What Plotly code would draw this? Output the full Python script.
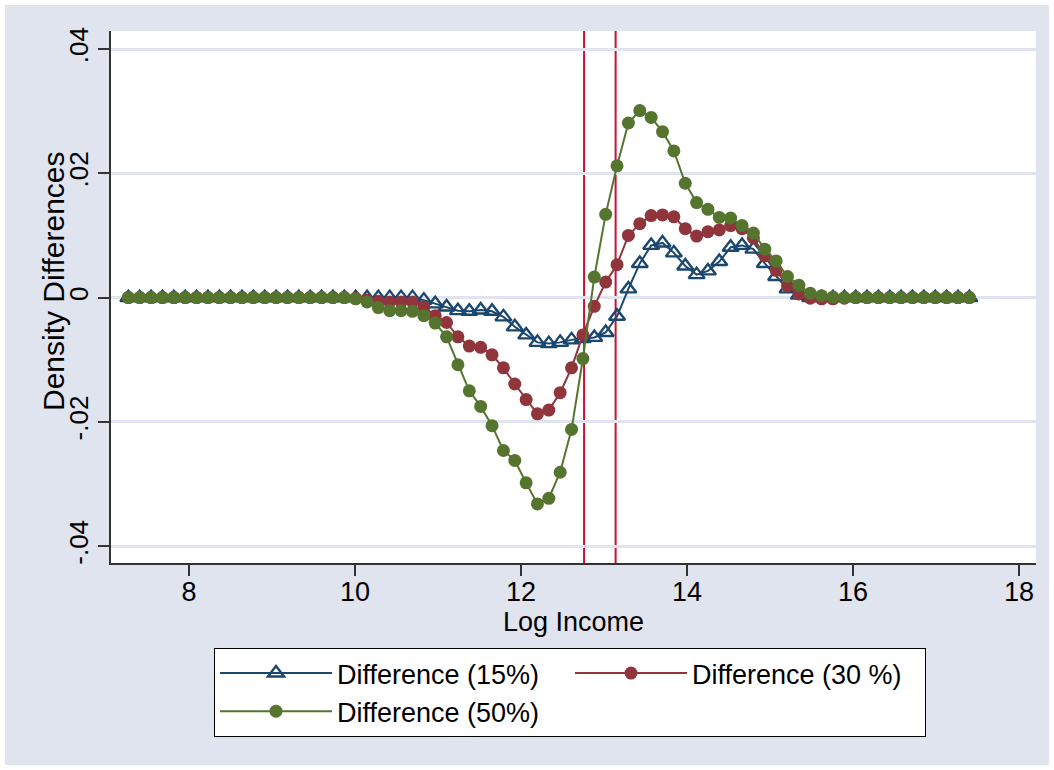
import plotly.graph_objects as go

# ---------------- data ----------------
log_income = [7.269, 7.406, 7.543, 7.680, 7.817, 7.954, 8.091, 8.228, 8.365, 8.501,
              8.638, 8.775, 8.912, 9.049, 9.186, 9.323, 9.460, 9.597, 9.734, 9.871,
              10.008, 10.145, 10.281, 10.418, 10.555, 10.692, 10.829, 10.966, 11.103, 11.240,
              11.377, 11.514, 11.651, 11.788, 11.925, 12.062, 12.198, 12.335, 12.472, 12.609,
              12.746, 12.883, 13.020, 13.157, 13.294, 13.431, 13.568, 13.705, 13.842, 13.979,
              14.116, 14.252, 14.389, 14.526, 14.663, 14.800, 14.937, 15.074, 15.211, 15.348,
              15.485, 15.622, 15.759, 15.896, 16.033, 16.169, 16.306, 16.443, 16.580, 16.717,
              16.854, 16.991, 17.128, 17.265, 17.402]

diff_15 = [0, 0, 0, 0, 0, 0, 0, 0, 0, 0,
           0, 0, 0, 0, 0, 0, 0, 0, 0, 0,
           0, 0, 0, 0, 0, 0, -0.0004, -0.0010, -0.0015, -0.0021,
           -0.0022, -0.0020, -0.0022, -0.0031, -0.0047, -0.0060, -0.0072, -0.0074, -0.0072, -0.0068,
           -0.0066, -0.0064, -0.0056, -0.0030, 0.0014, 0.0055, 0.0084, 0.0088, 0.0072, 0.0051,
           0.0037, 0.0043, 0.0058, 0.0081, 0.0084, 0.0078, 0.0055, 0.0034, 0.0014, 0.0004,
           0, 0, 0, 0, 0, 0, 0, 0, 0, 0,
           0, 0, 0, 0, 0]

diff_30 = [0, 0, 0, 0, 0, 0, 0, 0, 0, 0,
           0, 0, 0, 0, 0, 0, 0, 0, 0, 0,
           -0.0001, -0.0004, -0.0006, -0.0007, -0.0007, -0.0007, -0.0015, -0.0029, -0.0040, -0.0063,
           -0.0078, -0.0080, -0.0092, -0.0113, -0.0139, -0.0164, -0.0187, -0.0181, -0.0153, -0.0113,
           -0.0060, -0.0014, 0.0025, 0.0053, 0.0100, 0.0119, 0.0132, 0.0133, 0.0130, 0.0111,
           0.0099, 0.0106, 0.0109, 0.0116, 0.0111, 0.0096, 0.0067, 0.0044, 0.0019, 0.0006,
           -0.0001, -0.0002, -0.0002, -0.0001, 0, 0, 0, 0, 0, 0,
           0, 0, 0, 0, 0]

diff_50 = [0, 0, 0, 0, 0, 0, 0, 0, 0, 0,
           0, 0, 0, 0, 0, 0, 0, 0, 0, 0,
           -0.0002, -0.0007, -0.0016, -0.0021, -0.0021, -0.0022, -0.0029, -0.0041, -0.0063, -0.0108,
           -0.0150, -0.0175, -0.0206, -0.0246, -0.0262, -0.0298, -0.0332, -0.0323, -0.0281, -0.0212,
           -0.0098, 0.0033, 0.0134, 0.0212, 0.0281, 0.0301, 0.0290, 0.0267, 0.0236, 0.0184,
           0.0153, 0.0142, 0.0129, 0.0128, 0.0116, 0.0104, 0.0078, 0.0059, 0.0034, 0.0020,
           0.0007, 0.0003, 0.0001, 0, 0, 0, 0, 0, 0, 0,
           0, 0, 0, 0, 0]

series_names = ["Difference (15%)", "Difference (30 %)", "Difference (50%)"]
reference_x = [12.76, 13.14]
reference_y = [0]

x_tickvals = [8, 10, 12, 14, 16, 18]
y_tickvals = [-0.04, -0.02, 0, 0.02, 0.04]
y_ticktext = ["-.04", "-.02", "0", ".02", ".04"]
x_title = "Log Income"
y_title = "Density Differences"

# ---------------- styling ----------------
W, H = 1054, 770
ML, MR, MT, MB = 111, 18, 31, 207
PW, PH = W - ML - MR, H - MT - MB
BG = "#e0e4ef"
GRID = "#e0e4ef"
AXIS = "#333333"
REFLINE = "#cc1035"
FONT = "Liberation Sans, Arial, Helvetica, sans-serif"
colors = ["#1a476f", "#90353b", "#55752f"]

fig = go.Figure()

fig.add_trace(go.Scatter(
    x=log_income, y=diff_15, name=series_names[0], mode="lines+markers",
    line=dict(color=colors[0], width=2),
    marker=dict(symbol="triangle-up-open", size=14, color=colors[0],
                line=dict(color=colors[0], width=2.4)),
))
fig.add_trace(go.Scatter(
    x=log_income, y=diff_30, name=series_names[1], mode="lines+markers",
    line=dict(color=colors[1], width=2),
    marker=dict(symbol="circle", size=13, color=colors[1], line=dict(width=0)),
))
fig.add_trace(go.Scatter(
    x=log_income, y=diff_50, name=series_names[2], mode="lines+markers",
    line=dict(color=colors[2], width=2),
    marker=dict(symbol="circle", size=13, color=colors[2], line=dict(width=0)),
))

shapes = []
for yv in reference_y:
    shapes.append(dict(type="line", xref="paper", yref="y", x0=0, x1=1, y0=yv, y1=yv,
                       line=dict(color=REFLINE, width=2), layer="between"))
for xv in reference_x:
    shapes.append(dict(type="line", xref="x", yref="paper", x0=xv, x1=xv, y0=0, y1=1,
                       line=dict(color=REFLINE, width=2), layer="between"))
# thin white outer frame of the graph region
shapes.append(dict(type="rect", xref="paper", yref="paper",
                   x0=-ML / PW, x1=1 + MR / PW, y0=-MB / PH, y1=1 + MT / PH,
                   line=dict(color="white", width=10), fillcolor="rgba(0,0,0,0)", layer="above"))

fig.update_layout(
    width=W, height=H,
    margin=dict(l=ML, r=MR, t=MT, b=MB, pad=0),
    paper_bgcolor=BG, plot_bgcolor="white",
    font=dict(family=FONT, color="black", size=26),
    shapes=shapes,
    showlegend=True,
    legend=dict(
        orientation="h", x=(214 - ML) / PW, xanchor="left",
        y=(563 - 648) / PH, yanchor="top",
        bgcolor="white", bordercolor="black", borderwidth=1,
        font=dict(family=FONT, size=27, color="black"),
        entrywidth=228, entrywidthmode="pixels", itemwidth=112,
        traceorder="normal",
    ),
    annotations=[dict(
        text=y_title, textangle=-90, xref="paper", yref="paper",
        x=(53 - ML) / PW, y=0.53, xanchor="center", yanchor="middle",
        showarrow=False, font=dict(family=FONT, size=30, color="black"),
    )],
    xaxis=dict(
        range=[7.06, 18.205], tickvals=x_tickvals, ticktext=[str(v) for v in x_tickvals],
        showgrid=False, zeroline=False, showline=True, linecolor=AXIS, linewidth=1.5,
        ticks="outside", ticklen=11, tickwidth=1.5, tickcolor=AXIS,
        tickfont=dict(size=27), mirror=False, ticklabelstandoff=-7,
        title=dict(text=x_title, font=dict(size=27), standoff=0),
    ),
    yaxis=dict(
        range=[-0.0427, 0.0429], tickvals=y_tickvals, ticktext=y_ticktext, tickangle=-90,
        showgrid=True, gridcolor=GRID, gridwidth=2.5,
        zeroline=False, showline=True, linecolor=AXIS, linewidth=1.5,
        ticks="outside", ticklen=11, tickwidth=1.5, tickcolor=AXIS,
        tickfont=dict(size=26), mirror=False,
    ),
)

fig.write_html("out.html", config={"displayModeBar": False},
               post_script="document.body.style.margin='0';")
